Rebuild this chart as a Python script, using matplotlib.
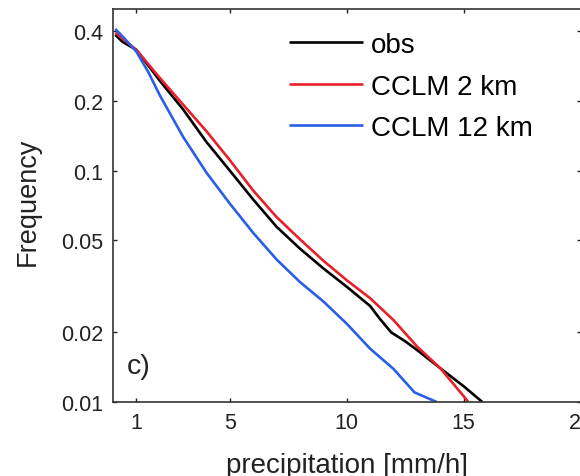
import matplotlib
matplotlib.use("Agg")
import matplotlib.pyplot as plt

plt.rcParams['font.family'] = ['Liberation Sans', 'DejaVu Sans']

# Precipitation intensity [mm/h] and exceedance frequencies
x_obs = [0.1, 0.4, 1, 2, 3, 4, 5, 6, 7, 8, 9, 10, 11, 11.4, 11.9, 12.5, 13, 14, 15, 15.8]
y_obs = [0.387, 0.361, 0.333, 0.245, 0.184, 0.133, 0.100, 0.075, 0.0572, 0.0460,
         0.0378, 0.0315, 0.0260, 0.0230, 0.0200, 0.0183, 0.0168, 0.0140, 0.0117, 0.0100]

x_2km = [0.1, 1, 2, 3, 4, 5, 6, 7, 8, 9, 10, 11, 12, 13, 14, 15, 15.2]
y_2km = [0.395, 0.333, 0.252, 0.193, 0.148, 0.111, 0.082, 0.063, 0.0505, 0.0408,
         0.0336, 0.0281, 0.0226, 0.0174, 0.0140, 0.0106, 0.0100]

x_12km = [0.1, 0.5, 1, 1.5, 2, 3, 4, 5, 6, 7, 8, 9, 10, 11, 12, 12.9, 13.85]
y_12km = [0.410, 0.372, 0.327, 0.268, 0.212, 0.140, 0.098, 0.072, 0.0538, 0.0413,
          0.0330, 0.0272, 0.0218, 0.0170, 0.0139, 0.0110, 0.0100]

series_labels = ['obs', 'CCLM 2 km', 'CCLM 12 km']
series_colors = ['#000000', '#e8202a', '#2a5ee8']

x_ticks = [1, 5, 10, 15, 20]
y_ticks = [0.01, 0.02, 0.05, 0.1, 0.2, 0.4]
y_ticklabels = ['0.01', '0.02', '0.05', '0.1', '0.2', '0.4']

fig = plt.figure(figsize=(5.80, 4.77), dpi=100)
W, H = 580, 477
left, right, top, bottom = 113, 580.5, 10, 403
ax = fig.add_axes([left / W, 1 - bottom / H, (right - left) / W, (bottom - top) / H])

for xs, ys, lab, col in zip([x_obs, x_2km, x_12km], [y_obs, y_2km, y_12km],
                            series_labels, series_colors):
    ax.plot(xs, ys, color=col, lw=1.9, label=lab, solid_capstyle='butt',
            solid_joinstyle='round')

ax.set_yscale('log')
ax.set_xlim(0, 20)
ax.set_ylim(0.01, 0.5)
ax.set_xticks(x_ticks)
ax.set_xticklabels([str(t) for t in x_ticks])
ax.set_yticks(y_ticks)
ax.set_yticklabels(y_ticklabels)
ax.minorticks_off()
ax.tick_params(direction='in', length=3, width=1.0, top=True, right=True,
               labelsize=15.5, pad=7, colors='#222222', labelcolor='#222222')
for s in ax.spines.values():
    s.set_linewidth(1.2)
    s.set_color('#333333')

ax.text(0.03, 0.074, 'c)', transform=ax.transAxes, fontsize=20.5,
        va='baseline', ha='left', color='#222222')

fig.text(347 / W, 4 / H, 'precipitation [mm/h]', fontsize=20,
         ha='center', va='baseline', color='#222222')
fig.text(28 / W, 1 - 202 / H, 'Frequency', fontsize=19.5, rotation=90,
         ha='center', va='center', color='#222222')

ax.legend(loc='upper left', bbox_to_anchor=(289 / W, 1 - 33 / H),
          bbox_transform=fig.transFigure, frameon=False, fontsize=20,
          handlelength=2.65, handletextpad=0.3, labelspacing=0.56,
          borderpad=0, borderaxespad=0)

fig.savefig('out.png', dpi=100)
